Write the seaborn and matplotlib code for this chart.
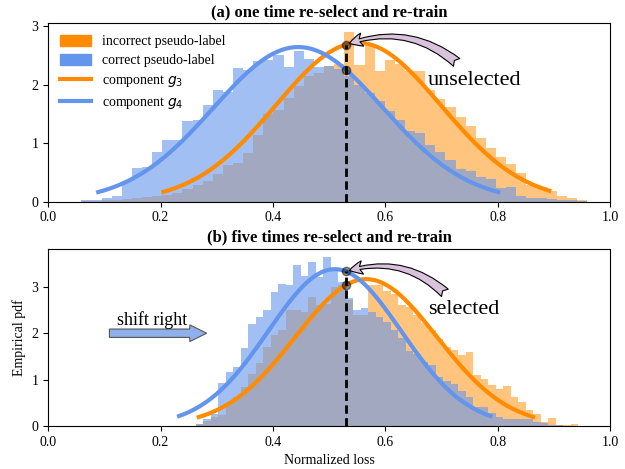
import numpy as np
import pandas as pd
import matplotlib
matplotlib.use("Agg")
import matplotlib.pyplot as plt
from matplotlib.patches import Patch
from matplotlib.lines import Line2D
import seaborn as sns

# ---------------- data ----------------
# panel (a): 50 bins starting at 0.059, width 0.018
a_bin_start = 0.059
a_bin_width = 0.018
a_incorrect = [0.01, 0.01, 0.02, 0.03, 0.05, 0.06, 0.08, 0.09, 0.12, 0.15,
               0.22, 0.28, 0.35, 0.48, 0.62, 0.66, 0.83, 1.14, 1.49, 1.57,
               1.77, 1.97, 2.14, 2.20, 2.32, 2.35, 2.90, 2.34, 2.66, 2.23,
               2.42, 2.35, 2.23, 2.23, 1.90, 1.75, 1.62, 1.45, 1.30, 1.09,
               0.92, 0.77, 0.64, 0.49, 0.28, 0.25, 0.18, 0.09, 0.06, 0.03]
a_correct = [0.02, 0.03, 0.06, 0.09, 0.35, 0.58, 0.60, 0.85, 1.05, 1.06,
             1.38, 1.40, 1.65, 1.90, 1.88, 2.28, 2.25, 2.40, 2.42, 2.50,
             2.30, 2.58, 2.43, 2.30, 2.32, 2.26, 2.14, 2.00, 1.86, 1.72,
             1.55, 1.40, 1.20, 1.17, 0.97, 0.85, 0.71, 0.55, 0.52, 0.43,
             0.39, 0.23, 0.25, 0.09, 0.07, 0.06, 0.05, 0.03, 0.02, 0.01]

# panel (b): 51 bins starting at 0.2626, width 0.01335
b_bin_start = 0.2626
b_bin_width = 0.01335
b_incorrect = [0.04, 0.11, 0.20, 0.24, 0.49, 0.63, 0.85, 1.13, 1.35, 1.71,
               1.96, 2.07, 2.51, 2.51, 2.46, 2.78, 2.60, 2.62, 2.99, 3.05,
               2.72, 2.39, 2.40, 3.03, 3.03, 2.90, 2.85, 2.60, 2.57, 2.39,
               2.21, 2.06, 1.88, 1.70, 1.64, 1.53, 1.60, 1.10, 1.02, 0.88,
               0.79, 0.86, 0.63, 0.52, 0.34, 0.26, 0.09, 0.18, 0.02, 0.02,
               0.04]
b_correct = [0.05, 0.15, 0.25, 0.92, 1.17, 1.27, 1.69, 2.19, 2.35, 2.49,
             2.89, 3.07, 3.05, 3.47, 3.23, 3.53, 3.21, 3.64, 3.35, 3.10,
             2.75, 2.51, 2.55, 2.45, 2.35, 2.24, 2.06, 1.90, 1.62, 1.56,
             1.38, 1.31, 1.05, 0.98, 0.90, 0.75, 0.63, 0.41, 0.40, 0.27,
             0.20, 0.16, 0.16, 0.16, 0.15, 0.09, 0.06, 0.03, 0.02, 0.01,
             0.00]

# Gaussian components: (mean, std, x range)
a_g3 = dict(mu=0.552, sigma=0.147, lo=0.205, hi=0.892)
a_g4 = dict(mu=0.445, sigma=0.151, lo=0.089, hi=0.801)
b_g3 = dict(mu=0.566, sigma=0.126, lo=0.268, hi=0.863)
b_g4 = dict(mu=0.510, sigma=0.118, lo=0.233, hi=0.787)

threshold = 0.53
titles = ["(a) one time re-select and re-train",
          "(b) five times re-select and re-train"]
legend_labels = ["incorrect pseudo-label", "correct pseudo-label",
                 "component $g_3$", "component $g_4$"]

ORANGE = "#FF8C00"
BLUE = "#6495ED"

plt.rcParams["font.family"] = ["Liberation Serif", "DejaVu Serif"]
plt.rcParams["mathtext.fontset"] = "dejavusans"

fig = plt.figure(figsize=(6.25, 4.69), dpi=100)
ax1 = fig.add_axes([0.0771, 0.570, 0.899, 0.380])
ax2 = fig.add_axes([0.0771, 0.0917, 0.899, 0.378])


def gauss(comp, n=200):
    x = np.linspace(comp["lo"], comp["hi"], n)
    y = np.exp(-0.5 * ((x - comp["mu"]) / comp["sigma"]) ** 2) / (comp["sigma"] * np.sqrt(2 * np.pi))
    return x, y


def gval(comp, x):
    return np.exp(-0.5 * ((x - comp["mu"]) / comp["sigma"]) ** 2) / (comp["sigma"] * np.sqrt(2 * np.pi))


def draw(ax, start, width, inc, cor, g3, g4):
    n = len(inc)
    centers = [start + width * (i + 0.5) for i in range(n)]
    rng = (start, start + width * n)
    df_inc = pd.DataFrame({"x": centers, "w": inc})
    df_cor = pd.DataFrame({"x": centers, "w": cor})
    sns.histplot(data=df_inc, x="x", weights="w", binwidth=width, binrange=rng,
                 stat="count", color=ORANGE, alpha=0.5, linewidth=0, ax=ax)
    sns.histplot(data=df_cor, x="x", weights="w", binwidth=width, binrange=rng,
                 stat="count", color=BLUE, alpha=0.6, linewidth=0, ax=ax)
    x3, y3 = gauss(g3)
    x4, y4 = gauss(g4)
    sns.lineplot(x=x3, y=y3, color=ORANGE, lw=3, ax=ax, sort=False)
    sns.lineplot(x=x4, y=y4, color=BLUE, lw=3, ax=ax, sort=False)
    v3 = gval(g3, threshold)
    v4 = gval(g4, threshold)
    ax.plot([threshold, threshold], [0, max(v3, v4)], color="black", lw=2,
            linestyle=(0, (3, 1.6)), zorder=5)
    ax.plot([threshold, threshold], [v3, v4], "o", color="black", alpha=0.45,
            ms=6, zorder=6)
    ax.set_xlim(0, 1)
    ax.set_xticks([0.0, 0.2, 0.4, 0.6, 0.8, 1.0])
    ax.set_yticks([0, 1, 2, 3])
    ax.tick_params(labelsize=10)
    ax.set_xlabel("")
    ax.set_ylabel("")
    return v3, v4


a3, a4 = draw(ax1, a_bin_start, a_bin_width, a_incorrect, a_correct, a_g3, a_g4)
b3, b4 = draw(ax2, b_bin_start, b_bin_width, b_incorrect, b_correct, b_g3, b_g4)

ax1.set_title(titles[0], fontsize=12, fontweight="bold", pad=5)
ax2.set_title(titles[1], fontsize=12, fontweight="bold", pad=5)
ax2.set_xlabel("Normalized loss", fontsize=10)
ax2.set_ylabel("Empirical pdf", fontsize=10)

handles = [Patch(color=ORANGE), Patch(color=BLUE),
           Line2D([], [], color=ORANGE, lw=3), Line2D([], [], color=BLUE, lw=3)]
ax1.legend(handles, legend_labels, loc="upper left", frameon=False,
           fontsize=10, handlelength=2.2, handleheight=0.8, labelspacing=0.42,
           borderaxespad=0.45, handletextpad=0.8)

# annotations panel (a)
ax1.annotate("", xy=(threshold + 0.006, a3 + 0.02), xytext=(0.727, 2.38),
             arrowprops=dict(arrowstyle="fancy,head_length=0.6,head_width=0.6,tail_width=0.45",
                             connectionstyle="arc3,rad=0.28", fc="#D9C3DC",
                             ec="black", lw=0.8, mutation_scale=16, shrinkA=0, shrinkB=0))
ax1.text(0.676, 2.0, "unselected", fontsize=16, ha="left", va="baseline")

# annotations panel (b)
ax2.annotate("", xy=(threshold + 0.006, b4 + 0.02), xytext=(0.706, 2.87),
             arrowprops=dict(arrowstyle="fancy,head_length=0.6,head_width=0.6,tail_width=0.45",
                             connectionstyle="arc3,rad=0.28", fc="#D9C3DC",
                             ec="black", lw=0.8, mutation_scale=16, shrinkA=0, shrinkB=0))
ax2.text(0.676, 2.42, "selected", fontsize=16, ha="left", va="baseline")
ax2.text(0.122, 2.17, "shift right", fontsize=13, ha="left", va="baseline")
ax2.arrow(0.109, 2.0, 0.173, 0.0, width=0.18, head_width=0.36, head_length=0.03,
          length_includes_head=True, fc="#8FB0EC", ec="#555555", lw=0.8)

fig.savefig("out.png", dpi=100)
